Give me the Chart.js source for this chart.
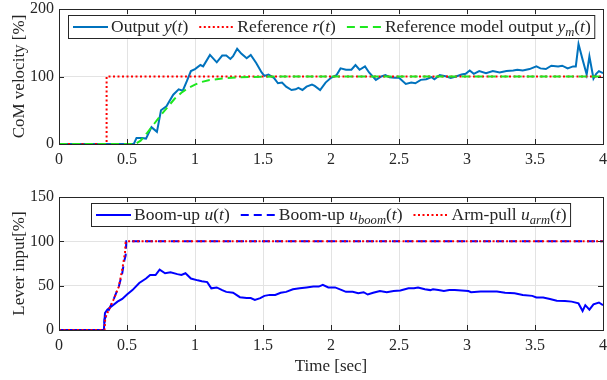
<!DOCTYPE html>
<html>
<head>
<meta charset="utf-8">
<script src="https://cdn.jsdelivr.net/npm/chart.js@4"></script>
<style>
    html, body { margin: 0; padding: 0; background: #fff; }
    body { width: 607px; height: 380px; position: relative; overflow: hidden; }
    .panel { position: absolute; left: 0; width: 607px; }
    #topPanel { top: 0; height: 175px; }
    #bottomPanel { top: 185px; height: 195px; }
</style>
</head>
<body>
<div class="panel" id="topPanel"><canvas id="velocityChart"></canvas></div>
<div class="panel" id="bottomPanel"><canvas id="leverChart"></canvas></div>
<script>
// #### DATA ####
// each entry is [time (s), value (%)]
const timeTicks = [0, 0.5, 1, 1.5, 2, 2.5, 3, 3.5, 4];

const outputY = [
    [0, 0], [0.55, 0], [0.57, 9], [0.61, 9], [0.64, 8], [0.68, 25], [0.72, 18], [0.75, 50],
    [0.79, 56], [0.84, 73], [0.88, 81], [0.91, 79], [0.94, 93], [0.97, 108], [1.0, 111],
    [1.04, 117], [1.06, 115], [1.11, 132], [1.16, 121], [1.2, 131], [1.23, 131], [1.26, 126],
    [1.28, 130], [1.31, 141], [1.34, 134], [1.38, 127], [1.41, 132], [1.45, 120], [1.49, 106],
    [1.51, 101], [1.54, 103], [1.58, 98], [1.61, 90], [1.64, 91], [1.67, 85], [1.71, 80],
    [1.74, 81], [1.76, 83], [1.79, 80], [1.82, 85], [1.86, 88], [1.88, 86], [1.92, 80],
    [1.96, 91], [2.0, 98], [2.04, 102], [2.07, 112], [2.11, 110], [2.15, 110], [2.18, 117],
    [2.21, 110], [2.25, 115], [2.28, 106], [2.33, 95], [2.37, 100], [2.4, 102], [2.43, 99],
    [2.47, 98], [2.5, 98], [2.55, 89], [2.59, 91], [2.62, 90], [2.66, 95], [2.7, 96],
    [2.74, 99], [2.76, 96], [2.8, 102], [2.85, 100], [2.88, 98], [2.92, 100], [2.96, 103],
    [2.99, 104], [3.02, 109], [3.05, 104], [3.09, 108], [3.14, 105], [3.19, 108], [3.24, 106],
    [3.29, 108], [3.34, 109], [3.37, 110], [3.41, 109], [3.46, 111], [3.51, 115], [3.54, 112],
    [3.58, 111], [3.62, 116], [3.67, 115], [3.7, 116], [3.74, 112], [3.78, 115], [3.8, 115],
    [3.82, 148], [3.85, 125], [3.88, 103], [3.9, 130], [3.93, 97], [3.95, 104], [3.97, 108],
    [4.0, 105]
];

const referenceR = [[0, 0], [0.35, 0], [0.35, 100], [4, 100]];

const modelOutput = [
    [0, 0], [0.56, 0], [0.6, 5], [0.65, 17], [0.7, 30], [0.75, 43], [0.8, 55], [0.85, 67],
    [0.9, 76], [0.95, 83], [1.0, 88], [1.05, 92], [1.1, 94.5], [1.2, 97], [1.3, 98.5],
    [1.4, 99.3], [1.5, 99.7], [1.6, 100], [4, 100]
];

const boomU = [
    [0, 0], [0.33, 0], [0.338, 19], [0.355, 23], [0.39, 27], [0.43, 32], [0.465, 35], [0.5, 40],
    [0.54, 45], [0.59, 53], [0.64, 58], [0.67, 62], [0.71, 62], [0.74, 68], [0.78, 64],
    [0.82, 65], [0.87, 63], [0.9, 62], [0.93, 64], [0.97, 58], [1.02, 56], [1.05, 55],
    [1.09, 54], [1.12, 47], [1.16, 48], [1.2, 45], [1.23, 43], [1.28, 42], [1.33, 37],
    [1.38, 36], [1.41, 36], [1.44, 34], [1.48, 36], [1.51, 38.5], [1.55, 39.6], [1.59, 39.6],
    [1.63, 42], [1.67, 43], [1.72, 46], [1.77, 47], [1.82, 48], [1.87, 49], [1.91, 49],
    [1.94, 51], [1.98, 48], [2.03, 48], [2.08, 45], [2.11, 43], [2.16, 43], [2.2, 41.5],
    [2.24, 42.6], [2.27, 40], [2.31, 42], [2.36, 44], [2.41, 42.6], [2.46, 44], [2.51, 44.5],
    [2.57, 47], [2.61, 47], [2.64, 48], [2.69, 46], [2.73, 45], [2.75, 46], [2.79, 45],
    [2.83, 44], [2.87, 45], [2.91, 45], [2.96, 44.5], [3.01, 44], [3.03, 42.6], [3.1, 43.4],
    [3.16, 43.4], [3.22, 43.4], [3.28, 42], [3.35, 41.5], [3.41, 39.6], [3.48, 38.5],
    [3.51, 36.6], [3.56, 36.6], [3.61, 35], [3.66, 33], [3.72, 32.8], [3.77, 32], [3.82, 30],
    [3.85, 21.5], [3.87, 28], [3.9, 23], [3.93, 29], [3.97, 31], [4.0, 28]
];

const boomCmd = [
    [0, 0], [0.33, 0], [0.335, 12], [0.37, 24], [0.4, 34], [0.44, 49], [0.465, 64],
    [0.48, 78], [0.49, 84], [0.495, 100], [4, 100]
];

const armCmd = [
    [0, 0], [0.335, 0], [0.34, 14], [0.37, 24], [0.4, 34], [0.44, 49], [0.466, 69],
    [0.485, 87], [0.49, 99], [0.5, 100], [4, 100]
];

// #### STYLE ####
const FONT = "'Liberation Serif', 'Times New Roman', serif";
const INK = '#262626';
const GRID = '#e3e3e3';

let toPoints = (pairs) => pairs.map(p => ({x: p[0], y: p[1]}));

// #### LEGEND TEXT ($..$ = math: letters italic, _{..} subscript) ####
function parseLabel(str) {
    let segs = [];
    let math = false;
    let push = (text, italic, sub) => {
        let last = segs[segs.length - 1];
        if (last && last.italic === italic && last.sub === sub) last.text += text;
        else segs.push({text, italic, sub});
    };
    for (let i = 0; i < str.length; i++) {
        let ch = str[i];
        if (ch === '$') { math = !math; continue; }
        if (math && ch === '_' && str[i + 1] === '{') {
            let end = str.indexOf('}', i);
            push(str.slice(i + 2, end), true, true);
            i = end;
            continue;
        }
        push(ch, math && /[a-z]/i.test(ch), false);
    }
    return segs;
}

let segFont = (s, size) => (s.italic ? 'italic ' : '') + (s.sub ? size * 0.72 : size) + 'px ' + FONT;

function segsWidth(ctx, segs, size) {
    let w = 0;
    for (let s of segs) {
        ctx.font = segFont(s, size);
        w += ctx.measureText(s.text).width;
    }
    return w;
}

// box, inward ticks and a north legend drawn over the data
const matlabAxes = {
    id: 'matlabAxes',
    afterDatasetsDraw(chart, args, opts) {
        let ctx = chart.ctx;
        let {left, right, top, bottom} = chart.chartArea;
        let xs = chart.scales.x, ys = chart.scales.y;
        ctx.save();
        ctx.strokeStyle = INK;
        ctx.lineWidth = 1;
        ctx.beginPath();
        for (let t of xs.ticks) {
            let px = Math.round(xs.getPixelForValue(t.value)) + 0.5;
            ctx.moveTo(px, bottom); ctx.lineTo(px, bottom - 5);
            ctx.moveTo(px, top); ctx.lineTo(px, top + 5);
        }
        for (let t of ys.ticks) {
            let py = Math.round(ys.getPixelForValue(t.value)) + 0.5;
            ctx.moveTo(left, py); ctx.lineTo(left + 5, py);
            ctx.moveTo(right, py); ctx.lineTo(right - 5, py);
        }
        ctx.stroke();
        ctx.strokeRect(Math.round(left) + 0.5, Math.round(top) + 0.5,
            Math.round(right - left), Math.round(bottom - top));

        // legend
        let size = opts.size;
        let items = chart.data.datasets.map(ds => ({ds, segs: parseLabel(ds.label)}));
        let sampleLen = 35, padL = 4.5, padR = 4, gapText = 3, gapEntry = 11, boxH = 23;
        let width = padL + padR;
        items.forEach((it, i) => {
            it.w = segsWidth(ctx, it.segs, size);
            width += sampleLen + gapText + it.w + (i > 0 ? gapEntry : 0);
        });
        let x0 = Math.round((left + right) / 2 - width / 2) + 0.5;
        let y0 = Math.round(top + opts.offset) + 0.5;
        ctx.fillStyle = '#fff';
        ctx.fillRect(x0, y0, width, boxH);
        ctx.strokeRect(x0, y0, width, boxH);

        let x = x0 + padL;
        let midY = y0 + boxH / 2;
        let baseY = y0 + 16;
        for (let it of items) {
            ctx.beginPath();
            ctx.strokeStyle = it.ds.borderColor;
            ctx.lineWidth = it.ds.borderWidth;
            ctx.setLineDash(it.ds.borderDash || []);
            ctx.moveTo(x, midY); ctx.lineTo(x + sampleLen, midY);
            ctx.stroke();
            ctx.setLineDash([]);
            x += sampleLen + gapText;
            ctx.fillStyle = INK;
            ctx.textBaseline = 'alphabetic';
            for (let s of it.segs) {
                ctx.font = segFont(s, size);
                ctx.fillText(s.text, x, baseY + (s.sub ? 4 : 0));
                x += ctx.measureText(s.text).width;
            }
            x += gapEntry;
        }
        ctx.restore();
    }
};

function makeOptions(yMax, yStep, yTitle, xTitle, padTop, xHeight) {
    return {
        responsive: true,
        maintainAspectRatio: false,
        animation: false,
        events: [],
        layout: {padding: {top: padTop, right: 4, left: 0, bottom: 0}},
        plugins: {
            legend: {display: false},
            tooltip: {enabled: false},
            matlabAxes: {size: 17.5, offset: 5.5}
        },
        elements: {point: {radius: 0}, line: {tension: 0}},
        scales: {
            x: {
                type: 'linear', min: 0, max: 4,
                afterBuildTicks: (scale) => { scale.ticks = timeTicks.map(v => ({value: v})); },
                afterFit: (scale) => {
                    scale.height = xHeight;
                    scale.paddingLeft = 0;
                    scale.paddingRight = 0;
                },
                grid: {color: GRID, drawTicks: false},
                border: {display: false},
                ticks: {color: INK, font: {family: FONT, size: 16}, padding: 6, maxRotation: 0,
                        callback: (v) => String(v)},
                title: {display: !!xTitle, text: xTitle, color: INK,
                        font: {family: FONT, size: 17}, padding: {top: 0, bottom: 3}}
            },
            y: {
                min: 0, max: yMax,
                ticks: {stepSize: yStep, color: INK, font: {family: FONT, size: 16}, padding: 5},
                afterFit: (scale) => {
                    scale.width = 59;
                    scale.paddingTop = 0;
                    scale.paddingBottom = 0;
                },
                grid: {color: GRID, drawTicks: false},
                border: {display: false},
                title: {display: true, text: yTitle, color: INK,
                        font: {family: FONT, size: 17}, padding: {top: 9, bottom: 0}}
            }
        }
    };
}

// #### COM VELOCITY ####
let velocityChart = new Chart(document.getElementById('velocityChart').getContext('2d'), {
    type: 'line',
    data: {
        datasets: [
            {label: 'Output $y(t)$', data: toPoints(outputY), borderColor: '#0072BD',
             borderWidth: 2, order: 2},
            {label: 'Reference $r(t)$', data: toPoints(referenceR), borderColor: '#ff0000',
             borderWidth: 2, borderDash: [2, 2.5], order: 1},
            {label: 'Reference model output $y_{m}(t)$', data: toPoints(modelOutput),
             borderColor: '#1ee81e', borderWidth: 2, borderDash: [8, 5], order: 0}
        ]
    },
    options: makeOptions(200, 100, 'CoM velocity [%]', '', 9, 31),
    plugins: [matlabAxes]
});

// #### LEVER INPUT ####
let leverChart = new Chart(document.getElementById('leverChart').getContext('2d'), {
    type: 'line',
    data: {
        datasets: [
            {label: 'Boom-up $u(t)$', data: toPoints(boomU), borderColor: '#0000ff',
             borderWidth: 2, order: 2},
            {label: 'Boom-up $u_{boom}(t)$', data: toPoints(boomCmd), borderColor: '#0000ff',
             borderWidth: 2, borderDash: [8, 5], order: 1},
            {label: 'Arm-pull $u_{arm}(t)$', data: toPoints(armCmd), borderColor: '#ff0000',
             borderWidth: 2, borderDash: [2, 2.5], order: 0}
        ]
    },
    options: makeOptions(150, 50, 'Lever input[%]', 'Time [sec]', 12, 50),
    plugins: [matlabAxes]
});
</script>
</body>
</html>
